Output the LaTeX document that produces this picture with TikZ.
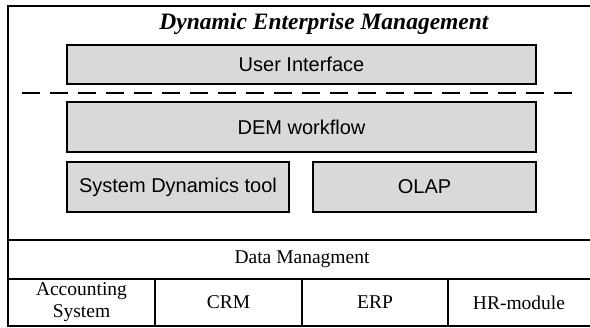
\documentclass[tikz,border=0pt]{standalone}
\usepackage{fontspec}
\setmainfont{Liberation Serif}
\setsansfont{Liberation Sans}
\usetikzlibrary{calc}

\begin{document}
\begin{tikzpicture}[x=1pt,y=-1pt,line width=1.3pt] %% tikz
	\tikzstyle{layer}=[draw,fill=black!15,font=\sffamily\fontsize{20}{22}\selectfont,inner sep=0pt];
	\tikzstyle{cell}=[font=\rmfamily\fontsize{19.5}{21.5}\selectfont,align=center,inner sep=0pt];
	\useasboundingbox (0,0) rectangle (590,328);
	%% frame and table
	\draw (591,6) -- (8,6) -- (8,326) -- (591,326);
	\draw (8,240) -- (591,240);
	\draw (8,279) -- (591,279);
	\draw (155,279) -- (155,326);
	\draw (302,279) -- (302,326);
	\draw (448,279) -- (448,326);
	\node[font=\rmfamily\bfseries\itshape\fontsize{23.5}{25}\selectfont] (title) at (324,24) {Dynamic Enterprise Management};
	%% layers
	\node[layer,minimum width=469pt,minimum height=39pt] (ui) at (301.5,64.5) {User Interface};
	\node[layer,minimum width=469pt,minimum height=50pt] (dem) at (301.5,127) {DEM workflow};
	\node[layer,minimum width=222pt,minimum height=50pt] (sd) at (178,187) {System Dynamics tool};
	\node[layer,minimum width=223pt,minimum height=50pt] (olap) at (424.5,187) {OLAP};
	\draw[dash pattern=on 18pt off 10pt] (22,93) -- (578,93);
	%% data
	\node[cell] (data) at (302,259.5) {Data Managment};
	\node[cell] (acc) at (81.5,302) {Accounting\\System};
	\node[cell] (crm) at (228.5,302.5) {CRM};
	\node[cell] (erp) at (375,302.5) {ERP};
	\node[cell] (hr) at (519,302.5) {HR-module};
\end{tikzpicture}
\end{document}
